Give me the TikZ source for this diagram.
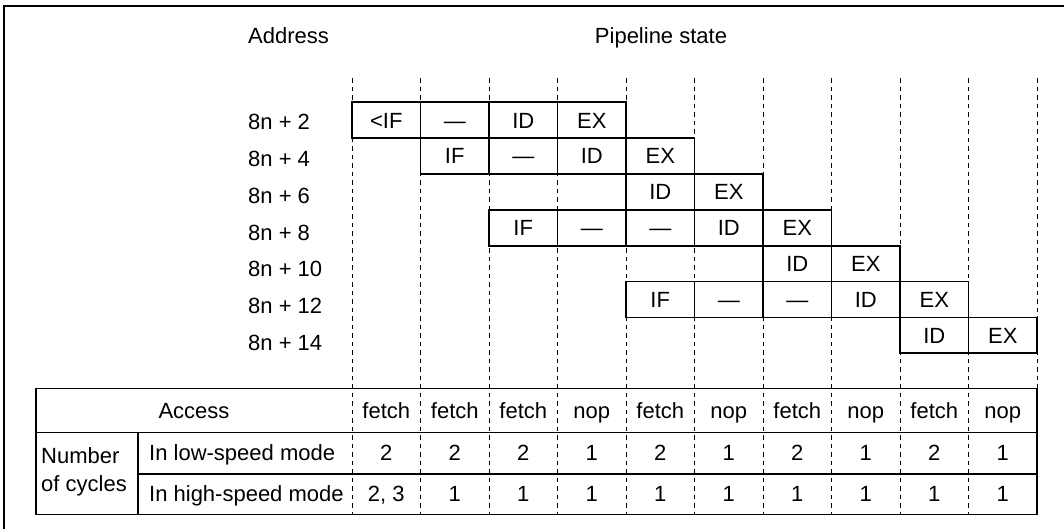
\documentclass[tikz,border=0pt]{standalone}
\usepackage{fontspec}
\setmainfont{Liberation Sans}
\begin{document}
\begin{tikzpicture}[x=1pt,y=-1pt,
    txt/.style={inner sep=0pt,text height=15.8pt,text depth=0pt,font=\fontsize{22}{28}\selectfont},
    stage/.style={txt,draw,line width=1.7pt,minimum width=68.5pt,minimum height=35.9pt},
    lane/.style={line width=1pt,dash pattern=on 4.5pt off 4pt},
    rule/.style={line width=1.6pt}]
  \useasboundingbox (0,0) rectangle (1064,528);
  \clip (0,0) rectangle (1064,528);
  \draw[line width=2.4pt] (4,6) rectangle (1080,540);
  \node[txt,anchor=west] (addr) at (248,36) {Address};
  \node[txt] (pipe) at (661,36) {Pipeline state};
  \foreach \i in {0,...,10} {
    \coordinate (t\i) at (352+68.5*\i,78);
    \coordinate (b\i) at (352+68.5*\i,514.3);
    \draw[lane] (t\i) -- (b\i);
  }
  \foreach \r/\n in {1/2,2/4,3/6,4/8,5/10,6/12,7/14}
    \node[txt,anchor=west] (a\r) at (248,84.9+36.8*\r) {8n + \n};
  \foreach \r/\c/\s in {1/0/<IF,1/1/—,1/2/ID,1/3/EX,
                        2/1/IF,2/2/—,2/3/ID,2/4/EX,
                        3/4/ID,3/5/EX,
                        4/2/IF,4/3/—,4/4/—,4/5/ID,4/6/EX,
                        5/6/ID,5/7/EX,
                        6/4/IF,6/5/—,6/6/—,6/7/ID,6/8/EX,
                        7/8/ID,7/9/EX}
    \node[stage] (s\r-\c) at (386.25+68.5*\c,84.37+35.86*\r) {\s};
  \draw[rule] (35.7,388.3) rectangle (1036.7,514.3);
  \draw[rule] (35.7,432.3) -- (1036.7,432.3);
  \draw[rule] (138,473.7) -- (1036.7,473.7);
  \draw[rule] (138,432.3) -- (138,514.3);
  \node[txt] (acc) at (194,410.3) {Access};
  \node[inner sep=0pt,align=left,anchor=west,font=\fontsize{22}{28}\selectfont] (cyc) at (41,471.5) {Number\\of cycles};
  \node[txt,anchor=west] (low) at (149,453) {In low-speed mode};
  \node[txt,anchor=west] (high) at (149,494) {In high-speed mode};
  \foreach \a [count=\i from 0] in {fetch,fetch,fetch,nop,fetch,nop,fetch,nop,fetch,nop}
    \node[txt] (acc\i) at (386.25+68.5*\i,410.3) {\a};
  \foreach \v [count=\i from 0] in {2,2,2,1,2,1,2,1,2,1}
    \node[txt] (low\i) at (386.25+68.5*\i,453) {\v};
  \foreach \v [count=\i from 0] in {{2, 3},1,1,1,1,1,1,1,1,1}
    \node[txt] (high\i) at (386.25+68.5*\i,494) {\v};
\end{tikzpicture}
\end{document}
